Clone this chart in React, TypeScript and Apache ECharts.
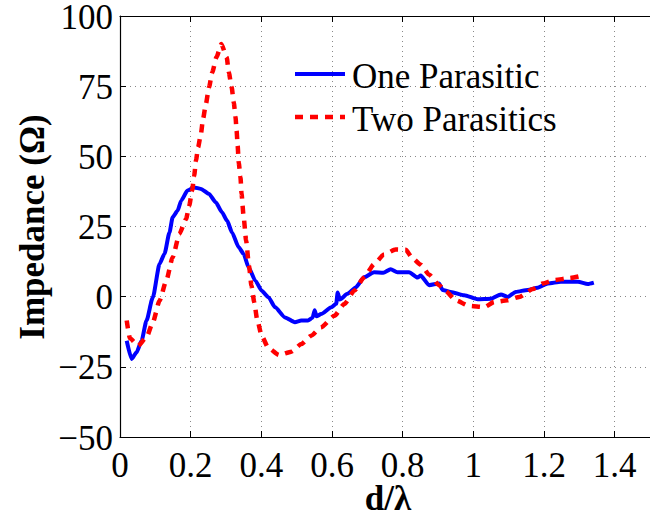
import React, { useEffect, useRef } from 'react';
import * as echarts from 'echarts';

const xTickLabels = [0, 0.2, 0.4, 0.6, 0.8, 1, 1.2, 1.4];
const yTickLabels = [-50, -25, 0, 25, 50, 75, 100];
const seriesNames = ['One Parasitic', 'Two Parasitics'];
const seriesColors = ['#0000ff', '#ff0000'];

const oneX = [0.019, 0.033, 0.047, 0.061, 0.075, 0.093, 0.112, 0.126, 0.140, 0.149, 0.163, 0.173, 0.191, 0.210, 0.229, 0.252, 0.271, 0.289, 0.303, 0.317, 0.336, 0.350, 0.364, 0.383, 0.401, 0.420, 0.439, 0.467, 0.495, 0.513, 0.532, 0.545, 0.551, 0.556, 0.569, 0.598, 0.612, 0.616, 0.622, 0.644, 0.667, 0.691, 0.719, 0.745, 0.766, 0.785, 0.818, 0.842, 0.851, 0.875, 0.903, 0.913, 0.936, 0.974, 1.012, 1.050, 1.078, 1.097, 1.120, 1.154, 1.182, 1.211, 1.248, 1.296, 1.324, 1.341];
const oneY = [-15.7, -22.2, -19.8, -15.7, -8.5, -0.2, 11.7, 15.3, 22.9, 28.3, 30.6, 34.2, 37.8, 38.9, 38.4, 36.6, 33.6, 30.0, 27.1, 22.9, 17.6, 15.2, 10.4, 5.7, 2.1, -0.2, -3.8, -7.4, -9.1, -8.5, -8.5, -7.5, -4.8, -7.0, -6.2, -3.8, -2.5, 1.5, -1.0, 1.0, 3.3, 6.9, 8.7, 8.5, 9.8, 8.7, 8.7, 6.8, 7.5, 4.1, 4.7, 2.4, 1.7, 0.5, -0.9, -0.7, 0.8, -0.1, 1.7, 2.4, 3.2, 4.7, 5.3, 5.3, 4.5, 5.0];

const twoX = [0.019, 0.028, 0.051, 0.075, 0.093, 0.112, 0.131, 0.149, 0.168, 0.187, 0.196, 0.204, 0.210, 0.215, 0.221, 0.229, 0.235, 0.243, 0.252, 0.261, 0.273, 0.287, 0.302, 0.308, 0.316, 0.322, 0.327, 0.330, 0.333, 0.336, 0.341, 0.344, 0.350, 0.357, 0.365, 0.372, 0.380, 0.388, 0.401, 0.420, 0.450, 0.485, 0.513, 0.541, 0.569, 0.607, 0.635, 0.663, 0.691, 0.719, 0.747, 0.780, 0.809, 0.827, 0.851, 0.875, 0.903, 0.922, 0.950, 0.988, 1.031, 1.059, 1.097, 1.130, 1.168, 1.196, 1.229, 1.272, 1.317];
const twoY = [-8.5, -14.8, -17.5, -14.5, -9.1, -1.4, 5.7, 14.0, 22.3, 27.7, 32.4, 37.8, 43.1, 48.5, 53.2, 58.0, 63.3, 68.6, 74.6, 79.9, 85.3, 90.0, 85.3, 79.9, 74.6, 69.2, 63.9, 59.1, 53.8, 47.8, 42.5, 36.6, 28.3, 20.0, 11.0, 4.0, -2.0, -8.0, -14.0, -18.3, -20.8, -19.6, -16.9, -13.9, -10.9, -6.8, -2.6, 2.1, 6.9, 11.6, 15.0, 16.8, 16.7, 13.8, 11.4, 7.8, 4.1, 2.0, -1.3, -3.3, -3.7, -1.9, -1.3, -0.1, 2.7, 4.7, 5.9, 6.6, 7.8];

const FONT = 'Liberation Serif';
const FONT_SHORTHAND = "35px 'Liberation Serif', 'Times New Roman', serif";

export default function App() {
  const ref = useRef<HTMLDivElement>(null);
  useEffect(() => {
    const chart = echarts.init(ref.current as HTMLDivElement, null, { renderer: 'svg' });
    const axisLineStyle = { color: '#000', width: 1.2 };
    const tick = { show: true, inside: true, length: 6, lineStyle: { color: '#000', width: 1 } };
    const split = { show: true, lineStyle: { type: [1, 4] as any, color: '#888', width: 1 } };
    const dash = [8, 7];
    chart.setOption({
      animation: false,
      backgroundColor: '#ffffff',
      grid: { left: 120, top: 16, width: 535, height: 421, containLabel: false },
      xAxis: [
        {
          type: 'value', min: 0, max: 1.5, interval: 0.2, position: 'bottom',
          axisLine: { show: true, onZero: false, lineStyle: axisLineStyle },
          axisTick: tick,
          axisLabel: { show: false },
          splitLine: split,
        },
        {
          type: 'value', min: 0, max: 1.5, interval: 0.2, position: 'top',
          axisLine: { show: true, onZero: false, lineStyle: axisLineStyle },
          axisTick: tick,
          axisLabel: { show: false },
          splitLine: { show: false },
        },
      ],
      yAxis: [
        {
          type: 'value', min: -50, max: 100, interval: 25, position: 'left',
          axisLine: { show: true, onZero: false, lineStyle: axisLineStyle },
          axisTick: tick,
          axisLabel: { show: false },
          splitLine: split,
        },
      ],
      series: [
        {
          name: seriesNames[0], type: 'line', xAxisIndex: 0, yAxisIndex: 0,
          symbol: 'none', showSymbol: false, smooth: 0.2, smoothMonotone: 'x',
          lineStyle: { color: seriesColors[0], width: 4 },
          itemStyle: { color: seriesColors[0] },
          data: oneX.map((x, i) => [x, oneY[i]]),
        },
        {
          name: seriesNames[1], type: 'line', xAxisIndex: 0, yAxisIndex: 0,
          symbol: 'none', showSymbol: false, smooth: 0.2, smoothMonotone: 'x',
          lineStyle: { color: seriesColors[1], width: 4.5, type: dash, cap: 'butt' },
          itemStyle: { color: seriesColors[1] },
          data: twoX.map((x, i) => [x, twoY[i]]),
        },
      ],
    });

    // Tick labels placed through the axes' own scales
    const axisBottom = chart.convertToPixel({ yAxisIndex: 0 }, -50) as number;
    const axisLeft = chart.convertToPixel({ xAxisIndex: 0 }, 0) as number;
    const txt = (text: string, x: number, y: number, align: string) => ({
      type: 'text', x, y, silent: true,
      style: { text, font: FONT_SHORTHAND, fill: '#000', textAlign: align, textVerticalAlign: 'middle' },
    });
    const graphics: any[] = [];
    xTickLabels.forEach((v) => {
      const px = chart.convertToPixel({ xAxisIndex: 0 }, v) as number;
      graphics.push(txt(String(v), px, axisBottom + 28, 'center'));
    });
    yTickLabels.forEach((v) => {
      const py = chart.convertToPixel({ yAxisIndex: 0 }, v) as number;
      const label = v < 0 ? '\u2212' + Math.abs(v) : String(v);
      graphics.push(txt(label, axisLeft - 7, py + 1, 'right'));
    });
    // Axis titles
    graphics.push({
      type: 'text', x: 32, y: 227, rotation: Math.PI / 2, silent: true,
      style: { text: 'Impedance (\u03A9)', fontFamily: FONT, fontSize: 35, fontWeight: 'bold', fill: '#000', textAlign: 'center', textVerticalAlign: 'middle' },
    });
    graphics.push({
      type: 'text', x: 388, y: 498, silent: true,
      style: { text: 'd/\u03BB', fontFamily: FONT, fontSize: 35, fontWeight: 'bold', fill: '#000', textAlign: 'center', textVerticalAlign: 'middle' },
    });
    // Legend
    const legendRows = [74, 117];
    seriesNames.forEach((name, i) => {
      const y = legendRows[i];
      graphics.push({
        type: 'line', silent: true,
        shape: { x1: 295, y1: y, x2: 345, y2: y },
        style: i === 0
          ? { stroke: seriesColors[i], lineWidth: 4 }
          : { stroke: seriesColors[i], lineWidth: 4.5, lineDash: dash, lineCap: 'butt' },
      });
      graphics.push(txt(name, 352, y + 2, 'left'));
    });
    chart.setOption({ graphic: graphics });
    return () => chart.dispose();
  }, []);
  return <div ref={ref} style={{ position: 'fixed', left: 0, top: 0, width: 650, height: 514, overflow: 'hidden', background: '#fff' }} />;
}
